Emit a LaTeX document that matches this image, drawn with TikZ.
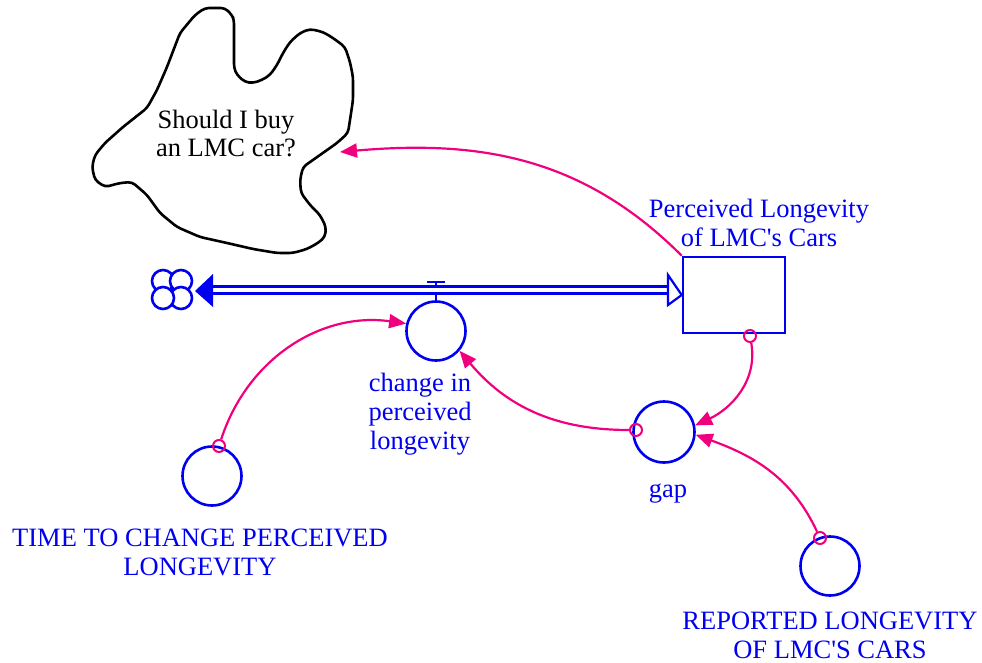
\documentclass[tikz,border=0pt]{standalone}
\usepackage{fontspec}
\setmainfont{Liberation Serif}
\usetikzlibrary{arrows.meta}
\definecolor{vblue}{RGB}{0,0,240}
\definecolor{vmag}{RGB}{240,0,125}
\tikzset{
  aux/.style={circle,draw=vblue,line width=2.6pt,minimum size=59pt,inner sep=0pt},
  lbl/.style={text=vblue,font=\fontsize{26.5}{29}\selectfont,align=center,inner sep=0pt},
  link/.style={draw=vmag,line width=2.2pt,-{Triangle[length=17pt,width=14pt]}},
  tailc/.style={circle,draw=vmag,line width=2pt,minimum size=12pt,inner sep=0pt},
  pipe/.style={draw=vblue,line width=2.2pt},
  lobe/.style={circle,draw=vblue,fill=white,line width=2.6pt,minimum size=22pt,inner sep=0pt},
}
\begin{document}
\begin{tikzpicture}[x=1pt,y=-1pt]
\useasboundingbox (0,0) rectangle (982,663);
% decision cloud
\draw[line width=2.6pt,rounded corners=4pt]
 (195,15) -- (205,8) -- (225,8) -- (232,15) -- (234,20) -- (234,68) -- (237,75) -- (245,82)
 -- (253,83) -- (262,80) -- (270,75) -- (277,65) -- (283,53) -- (290,42) -- (300,33) -- (310,29)
 -- (323,32) -- (333,38) -- (345,47) -- (350,62) -- (353,77) -- (353,100) -- (350,120) -- (348,133)
 -- (337,143) -- (320,155) -- (303,167) -- (300,180) -- (301,193) -- (310,205) -- (320,215)
 -- (326,227) -- (325,237) -- (318,243) -- (307,249) -- (293,253) -- (277,253) -- (253,249)
 -- (227,243) -- (200,237) -- (177,227) -- (160,213) -- (147,195) -- (132,182) -- (120,183)
 -- (105,187) -- (95,180) -- (92,167) -- (95,155) -- (105,143) -- (123,127) -- (147,108)
 -- (157,90) -- (167,67) -- (180,33) -- cycle;
\node[font=\fontsize{26.5}{28}\selectfont,align=center,inner sep=0pt] (q) at (226,133) {Should I buy\\an LMC car?};
\coordinate (qin) at (340,152);
% stock
\node[draw=vblue,line width=2.6pt,minimum width=102pt,minimum height=76pt,inner sep=0pt] (stock) at (734,295) {};
\node[lbl] (stocklbl) at (759,223) {Perceived Longevity\\of LMC\textquotesingle s Cars};
% source cloud
\node[lobe] (l1) at (163,281) {};
\node[lobe] (l2) at (181,281) {};
\node[lobe] (l3) at (181,298) {};
\node[lobe] (l4) at (163,298) {};
% pipe
\coordinate (pl) at (210,290);
\coordinate (pr) at (668,290);
\draw[pipe] ([yshift=-3.5pt]pl) -- ([yshift=-3.5pt]pr);
\draw[pipe] ([yshift=3.5pt]pl) -- ([yshift=3.5pt]pr);
\fill[vblue] (195,291) -- (213,274) -- (213,307) -- cycle;
\draw[pipe,fill=white,line join=miter] (668,275) -- (stock.west) -- (668,305) -- cycle;
% valve and auxiliaries
\node[aux] (chg) at (436,331) {};
\draw[pipe] (427,282) -- (445,282);
\draw[pipe] (436,282) -- (436,286);
\draw[pipe] (436,294) -- (chg.north);
\node[lbl] (chglbl) at (420,414) {change in\\perceived\\longevity};
\node[aux,minimum size=61pt] (gap) at (664,432) {};
\node[lbl] (gaplbl) at (668,494) {gap};
\node[aux] (tim) at (212,476) {};
\node[lbl] (timlbl) at (200,552) {TIME TO CHANGE PERCEIVED\\LONGEVITY};
\node[aux] (rep) at (830,566) {};
\node[lbl] (replbl) at (830,635) {REPORTED LONGEVITY\\OF LMC\textquotesingle S CARS};
% links
\draw[link] (stock.north west) to[out=135,in=5] (qin);
\node[tailc] (t1) at (750,336) {};
\draw[link] (t1) to[out=-80,in=25] (gap.12);
\node[tailc] (t2) at (820,538) {};
\draw[link] (t2) to[out=115,in=-20] (gap.-5);
\node[tailc] (t3) at (636,430) {};
\draw[link] (t3) to[out=180,in=-50] (chg.-40);
\node[tailc] (t4) at (219,446) {};
\draw[link] (t4) to[out=72,in=172] (chg.166);
\end{tikzpicture}
\end{document}
